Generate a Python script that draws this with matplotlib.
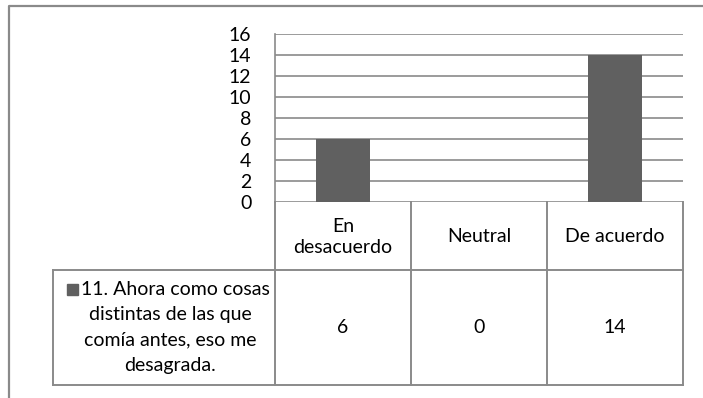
import matplotlib.pyplot as plt
from matplotlib.lines import Line2D

plt.rcParams['font.family'] = ['Lato', 'DejaVu Sans']

# datos de la pregunta 11
categorias = ['En\ndesacuerdo', 'Neutral', 'De acuerdo']
valores = [6, 0, 14]
serie = ['11. Ahora como cosas', 'distintas de las que', 'comía antes, eso me', 'desagrada.']
ticks_y = [0, 2, 4, 6, 8, 10, 12, 14, 16]

W, H = 703, 398
gris = '#8a8a8a'
barra = '#606060'
fs = 14

fig = plt.figure(figsize=(W / 100, H / 100), dpi=100)

# capa de fondo en pixeles para el marco y la tabla
capa = fig.add_axes([0, 0, 1, 1])
capa.set_xlim(0, W)
capa.set_ylim(H, 0)
capa.axis('off')

# marco exterior
capa.add_line(Line2D([9, 9, W], [H, 6, 6], color=gris, lw=1.6))

# area del grafico
x0, x1, y_top, y_cero = 275, 683, 34, 202
ax = fig.add_axes([x0 / W, 1 - y_cero / H, (x1 - x0) / W, (y_cero - y_top) / H])
xs = list(range(len(valores)))
ax.bar(xs, valores, width=0.39, color=barra, zorder=3)
ax.set_xlim(-0.5, len(valores) - 0.5)
ax.set_ylim(0, 16)
ax.set_yticks(ticks_y)
ax.set_xticks([])
ax.tick_params(axis='y', length=0, pad=17, labelsize=fs)
ax.grid(axis='y', color=gris, lw=1.2, zorder=1)
for s in ['top', 'right', 'bottom']:
    ax.spines[s].set_visible(False)
ax.spines['left'].set_color(gris)
ax.spines['left'].set_linewidth(1.2)
ax.set_facecolor('none')

# tabla de datos bajo el grafico
ancho = (x1 - x0) / len(valores)
cols = [x0 + i * ancho for i in range(len(valores) + 1)]
y_fila, y_fin, x_leyenda = 270, 385, 53
kw = dict(color=gris, lw=1.4)
capa.add_line(Line2D([x_leyenda, x1], [y_fila, y_fila], **kw))
capa.add_line(Line2D([x_leyenda, x1], [y_fin, y_fin], **kw))
capa.add_line(Line2D([x_leyenda, x_leyenda], [y_fila, y_fin], **kw))
for c in cols:
    capa.add_line(Line2D([c, c], [y_cero, y_fin], **kw))

for i, (cat, v) in enumerate(zip(categorias, valores)):
    cx = (cols[i] + cols[i + 1]) / 2
    capa.text(cx, (y_cero + y_fila) / 2 + 1, cat, ha='center', va='center',
              fontsize=fs, linespacing=1.35)
    capa.text(cx, (y_fila + y_fin) / 2, str(v), ha='center', va='center',
              fontsize=fs)

# etiqueta de la serie, linea por linea, con su marcador
paso = 25.5
yc = (y_fila + y_fin) / 2
xc = 170
for k, linea in enumerate(serie):
    y = yc + (k - (len(serie) - 1) / 2) * paso
    if k == 0:
        t = capa.text(xc + 5, y, linea, ha='center', va='center', fontsize=fs)
        fig.canvas.draw()
        bb = t.get_window_extent().transformed(capa.transData.inverted())
        capa.add_patch(plt.Rectangle((bb.x0 - 14, y - 5.5), 11, 11, color=barra))
    else:
        capa.text(xc, y, linea, ha='center', va='center', fontsize=fs)

fig.savefig('out.png', dpi=100)
